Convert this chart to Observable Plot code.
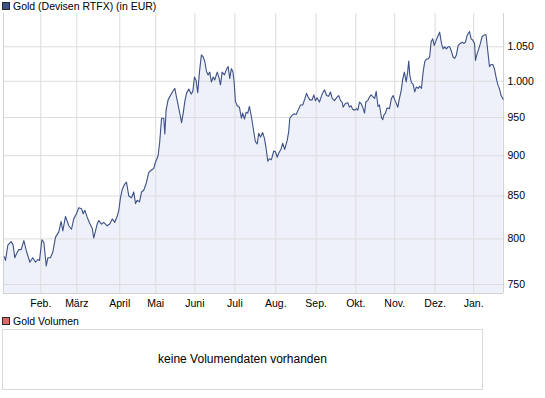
<!DOCTYPE html>
<html>
<head>
<meta charset="utf-8">
<script src="https://cdn.jsdelivr.net/npm/d3@7"></script>
<script src="https://cdn.jsdelivr.net/npm/@observablehq/plot@0.6"></script>
<style>
  html, body { margin: 0; padding: 0; background: #fff; }
  body { width: 545px; height: 398px; position: relative; overflow: hidden;
         font-family: "Liberation Sans", Arial, sans-serif; color: #000; }
  .legend { position: absolute; left: 0; font-size: 10.5px; line-height: 12px; white-space: nowrap; }
  .sq { position: absolute; width: 6px; height: 6px; border: 1px solid #2a2a2a; box-sizing: content-box; }
  #chart { position: absolute; left: 0; top: 13px; }
  #volbox { position: absolute; left: 2px; top: 329px; width: 481px; height: 61px; box-sizing: border-box;
            border: 1px solid #d9d9d9; font-size: 12px; text-align: center; line-height: 59px; }
</style>
</head>
<body>
<div class="legend" style="top:0px;"><span class="sq" style="left:2px;top:2px;background:#3e5283;"></span><span style="position:absolute;left:13px;top:0px;">Gold (Devisen RTFX) (in EUR)</span></div>
<div id="chart"></div>
<div class="legend" style="top:315px;"><span class="sq" style="left:2px;top:2px;background:#d9686a;"></span><span style="position:absolute;left:13px;top:0px;">Gold Volumen</span></div>
<div id="volbox">keine Volumendaten vorhanden</div>
<script>
// trading-day index (Jan 2010 – Jan 2011) and gold price in EUR
const days = [0,0.6,1.9,3.7,4.8,5.7,6.6,7.9,9.2,10.7,12.0,14.0,15.6,17.1,18.4,19.3,20.6,21.7,23.0,23.9,
  25.3,26.6,28.1,29.9,31.2,32.1,33.6,35.4,36.9,38.1,39.6,40.9,42.4,43.3,44.2,45.5,46.9,48.3,49.1,51.0,
  51.9,53.4,54.6,56.5,57.9,59.3,60.7,62.0,62.9,63.8,64.8,66.0,67.1,68.4,69.9,71.1,72.1,73.0,74.3,75.4,
  76.6,77.9,79.4,80.9,82.1,83.1,84.5,85.4,86.4,87.6,88.2,88.9,90.0,91.3,92.6,93.7,94.6,95.5,96.4,97.4,
  98.3,99.2,100.1,101.4,102.7,103.6,104.5,105.4,106.3,106.9,107.4,108.3,109.3,110.2,111.1,112.0,112.9,113.8,114.8,115.7,
  117.0,117.9,118.8,119.7,121.0,121.9,123.0,123.9,124.8,125.6,126.3,127.0,128.0,129.2,130.3,131.0,132.0,132.9,133.8,134.7,
  135.8,137.1,138.0,139.0,139.8,140.8,142.0,143.0,143.9,144.8,145.7,146.8,148.1,149.0,150.0,150.8,152.2,153.0,154.1,155.5,
  156.3,156.9,158.2,159.1,160.4,161.5,162.8,164.0,165.0,166.1,167.0,167.9,169.2,170.1,171.0,171.9,173.2,174.7,176.0,177.1,
  178.3,179.3,180.2,181.5,182.6,183.8,184.8,185.7,186.2,187.5,188.8,189.7,190.6,191.5,192.6,193.5,194.3,195.2,196.1,197.0,
  198.0,198.7,199.8,200.7,201.6,202.7,203.6,204.4,205.4,206.2,207.3,208.0,208.6,209.5,210.4,211.7,212.8,213.7,214.6,215.5,
  216.3,217.2,218.1,219.0,219.9,220.9,221.7,222.3,222.9,223.8,224.7,225.6,226.5,227.5,228.3,229.3,230.2,231.1,232.0,233.0,
  233.8,234.6,235.5,236.3,237.4,238.5,239.3,240.3,241.2,242.1,243.0,243.9,244.8,245.8,246.7,247.6,248.5,249.5,250.7,251.7,
  252.6,253.5,254.4,255.7,256.6,257.5,258.5,259.0,259.9,260.8,261.7,262.6,263.9,264.8,265.7,266.7,267.6,268.5,269.4,270.3,
  271.2,272.1,273.1,274.2];
const prices = [780,776,793,797,793,779,783,788,788,798,787,774,779,774,777,776,799,796,770,779,
  779,785,802,808,820,809,826,815,811,823,829,836,835,829,833,825,818,812,801,817,
  821,817,819,815,817,823,819,826,833,848,858,864,867,850,848,855,841,845,843,855,
  857,865,879,882,884,892,900,918,949,949,928,960,974,980,986,990,978,967,956,943,
  956,972,983,989,982,986,1006,1001,984,1003,1017,1038,1035,1028,1014,1009,1013,999,1006,1002,
  1013,1006,995,1013,1009,1016,1021,1004,1018,1014,999,972,966,964,949,956,948,957,956,965,
  951,931,918,915,929,924,930,922,909,893,896,895,906,905,898,903,909,916,908,920,
  931,949,953,955,954,960,967,967,974,983,978,974,974,981,973,977,971,982,988,980,
  979,985,976,973,977,980,973,971,964,969,970,964,966,961,960,962,960,971,969,964,
  956,971,973,978,981,978,976,986,965,967,950,947,953,956,963,962,976,980,974,969,
  964,976,986,1003,1013,999,1013,1029,1008,998,996,985,992,990,993,990,1013,1028,1032,1032,
  1035,1057,1062,1052,1060,1067,1072,1055,1047,1050,1047,1050,1050,1043,1035,1033,1038,1052,1055,1057,
  1055,1057,1067,1073,1062,1060,1055,1030,1040,1047,1055,1065,1068,1068,1045,1021,1024,1024,1018,1006,
  996,990,980,975];
const monthTicks = [20.0, 39.8, 63.4, 83.2, 104.7, 126.7, 149.2, 171.4, 193.2, 214.6, 236.8, 258.0];
const monthLabels = ["Feb.", "März", "April", "Mai", "Juni", "Juli", "Aug.", "Sep.", "Okt.", "Nov.", "Dez.", "Jan."];
const yTicks = [750, 800, 850, 900, 950, 1000, 1050];

const xDomain = [-0.5, 274.4];
const yDomain = [740.5, 1100.7];
const data = days.map((d, i) => ({day: d, price: prices[i]}));
const de = d3.formatLocale({decimal: ",", thousands: ".", grouping: [3], currency: ["", " €"]});
const fmt = de.format(",d");
const grid = "#dcdcdc";

const chart = Plot.plot({
  width: 545,
  height: 300,
  marginTop: 0,
  marginBottom: 20,
  marginLeft: 3,
  marginRight: 42,
  style: {fontSize: "10.5px", fontFamily: "'Liberation Sans', Arial, sans-serif", color: "#000", background: "transparent"},
  x: {type: "linear", domain: xDomain, ticks: monthTicks, tickFormat: d => monthLabels[monthTicks.indexOf(d)],
      tickSize: 0, tickPadding: 6, label: null},
  y: {type: "log", domain: yDomain, axis: "right", ticks: yTicks, tickFormat: fmt,
      tickSize: 0, tickPadding: 4, label: null},
  marks: [
    Plot.areaY(data, {x: "day", y1: yDomain[0], y2: "price", fill: "#eef1fa"}),
    Plot.ruleY(yTicks, {stroke: grid}),
    Plot.ruleX(monthTicks, {stroke: grid}),
    Plot.ruleX(xDomain, {stroke: "#d2d2d2"}),
    Plot.ruleY([yDomain[0]], {stroke: "#d2d2d2"}),
    Plot.line(data, {x: "day", y: "price", stroke: "#3d5186", strokeWidth: 1.1})
  ]
});
document.getElementById("chart").appendChild(chart);
</script>
</body>
</html>
